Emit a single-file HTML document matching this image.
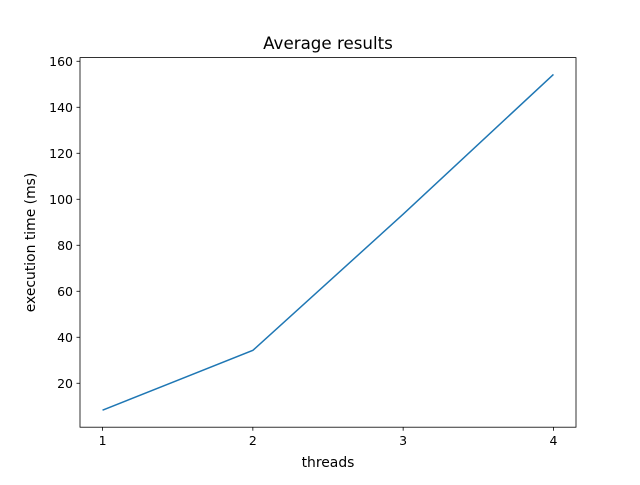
<!DOCTYPE html>
<html><head><meta charset="utf-8"><style>
body{margin:0;background:#fff;}
svg text{font-family:"DejaVu Sans","Liberation Sans",sans-serif;fill:#000;}
</style></head><body>
<svg id="chart" width="640" height="480">
<rect width="640" height="480" fill="#fff"/>
<text x="328" y="49" font-size="16.7" text-anchor="middle">Average results</text>
<text x="328" y="467" font-size="13.9" text-anchor="middle">threads</text>
<text transform="translate(35,242.5) rotate(-90)" font-size="13.9" text-anchor="middle">execution time (ms)</text>
<g id="ticks"></g>
<path id="line" fill="none" stroke="#1f77b4" stroke-width="1.5"/>
<rect x="80" y="57.6" width="496" height="369.6" fill="none" stroke="#000" stroke-width="0.8"/>
</svg>
<script>
const threads=[1,2,3,4];
const times=[8.3,34.3,93.5,154.3];
const xTicks=[1,2,3,4];
const yTicks=[20,40,60,80,100,120,140,160];
const L=80,R=576,T=57.6,B=427.2;
const x0=0.85,x1=4.15,y0=0.9,y1=161.6;
const sx=v=>L+(v-x0)/(x1-x0)*(R-L);
const sy=v=>B-(v-y0)/(y1-y0)*(B-T);
const NS="http://www.w3.org/2000/svg";
const g=document.getElementById('ticks');
function mk(t,a){const e=document.createElementNS(NS,t);for(const k in a)e.setAttribute(k,a[k]);g.appendChild(e);return e;}
xTicks.forEach(v=>{
const l=mk('line',{x1:sx(v),x2:sx(v),y1:B,y2:B+3.5,stroke:'#000','stroke-width':0.8});


const t=mk('text',{x:sx(v),y:B+18,'font-size':12.5,'text-anchor':'middle'});t.textContent=v;


});
yTicks.forEach(v=>{
const l=mk('line',{x1:L-3.5,x2:L,y1:sy(v),y2:sy(v),stroke:'#000','stroke-width':0.8});


const t=mk('text',{x:L-7,y:sy(v)+4.5,'font-size':12.5,'text-anchor':'end'});t.textContent=v;


});
document.getElementById('line').setAttribute('d',threads.map((v,i)=>(i?'L':'M')+sx(v)+','+sy(times[i])).join(''));
</script>
</body></html>
